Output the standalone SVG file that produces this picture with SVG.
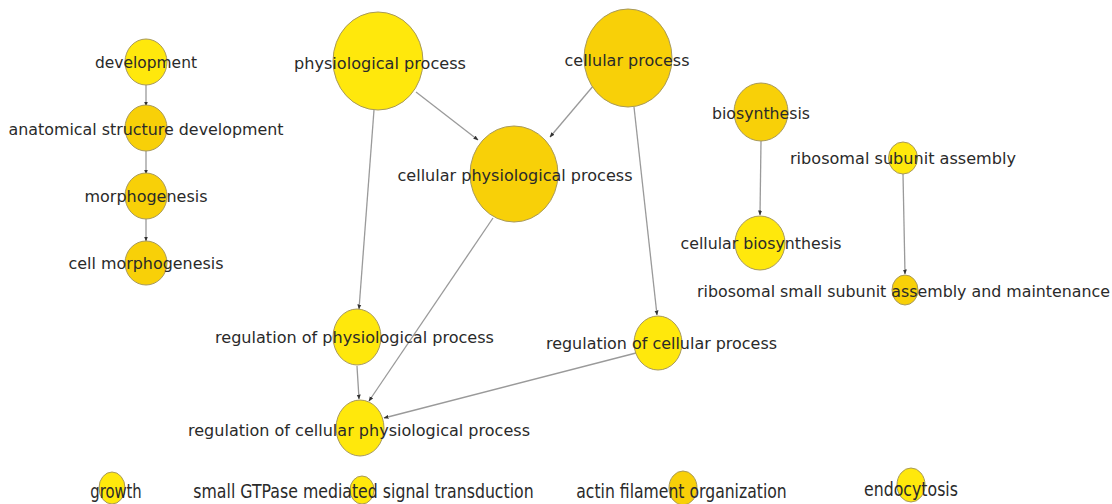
<svg xmlns="http://www.w3.org/2000/svg" width="1112" height="504" viewBox="0 0 1112 504">
  <style>
    .yel { fill: #FFE80C; stroke: #A8995A; stroke-width: 1; }
    .gold { fill: #F8D008; stroke: #A8995A; stroke-width: 1; }
    .lbl { font-family: "DejaVu Sans", "Liberation Sans", sans-serif; font-size: 15.5px; fill: #2a2a2a; text-anchor: middle; }
    .low { font-family: "DejaVu Sans", "Liberation Sans", sans-serif; font-size: 19px; fill: #2a2a2a; text-anchor: middle; }
    .edge { stroke: #9a9a9a; stroke-width: 1.3; fill: none; marker-end: url(#arrow); }
  </style>
  <defs>
    <marker id="arrow" viewBox="0 0 10 10" refX="9" refY="5" markerWidth="5" markerHeight="5" orient="auto" markerUnits="userSpaceOnUse">
      <path d="M0,1 L10,5 L0,9 z" fill="#333"/>
    </marker>
  </defs>
  <rect width="1112" height="504" fill="#fff"/>

  <g id="connectors">
    <line class="edge" x1="146" y1="85" x2="146" y2="106"/>
    <line class="edge" x1="146" y1="151" x2="146" y2="174"/>
    <line class="edge" x1="146" y1="219" x2="146" y2="241"/>
    <line class="edge" x1="416" y1="92" x2="478" y2="140"/>
    <line class="edge" x1="594" y1="85" x2="550" y2="137"/>
    <line class="edge" x1="374" y1="110" x2="359" y2="309"/>
    <line class="edge" x1="634" y1="107" x2="657" y2="315"/>
    <line class="edge" x1="493" y1="218" x2="369" y2="401"/>
    <line class="edge" x1="357" y1="366" x2="359" y2="399"/>
    <line class="edge" x1="636" y1="353" x2="384" y2="418"/>
    <line class="edge" x1="761" y1="141" x2="760" y2="215"/>
    <line class="edge" x1="903" y1="174" x2="905" y2="274"/>
  </g>

  <g id="development">
    <ellipse class="yel" cx="146" cy="62" rx="21" ry="23"/>
    <text class="lbl" x="146" y="67.5" textLength="102" lengthAdjust="spacingAndGlyphs">development</text>
  </g>
  <g id="anatomical-structure-development">
    <ellipse class="gold" cx="146" cy="128" rx="21" ry="23"/>
    <text class="lbl" x="146" y="134.5" textLength="275" lengthAdjust="spacingAndGlyphs">anatomical structure development</text>
  </g>
  <g id="morphogenesis">
    <ellipse class="gold" cx="146" cy="196" rx="21" ry="23"/>
    <text class="lbl" x="146" y="201.5" textLength="123" lengthAdjust="spacingAndGlyphs">morphogenesis</text>
  </g>
  <g id="cell-morphogenesis">
    <ellipse class="gold" cx="146" cy="263" rx="21" ry="22"/>
    <text class="lbl" x="146" y="268.5" textLength="155" lengthAdjust="spacingAndGlyphs">cell morphogenesis</text>
  </g>

  <g id="physiological-process">
    <ellipse class="yel" cx="378" cy="61" rx="45" ry="49"/>
    <text class="lbl" x="380" y="68.5" textLength="172" lengthAdjust="spacingAndGlyphs">physiological process</text>
  </g>
  <g id="cellular-process">
    <ellipse class="gold" cx="628" cy="58" rx="44" ry="49"/>
    <text class="lbl" x="627" y="65.5" textLength="125" lengthAdjust="spacingAndGlyphs">cellular process</text>
  </g>
  <g id="cellular-physiological-process">
    <ellipse class="gold" cx="514" cy="174" rx="44" ry="48"/>
    <text class="lbl" x="515" y="180.5" textLength="235" lengthAdjust="spacingAndGlyphs">cellular physiological process</text>
  </g>

  <g id="biosynthesis">
    <ellipse class="gold" cx="761" cy="112" rx="27" ry="29"/>
    <text class="lbl" x="761" y="118.5" textLength="98" lengthAdjust="spacingAndGlyphs">biosynthesis</text>
  </g>
  <g id="cellular-biosynthesis">
    <ellipse class="yel" cx="760" cy="243" rx="25" ry="27"/>
    <text class="lbl" x="761" y="248.5" textLength="161" lengthAdjust="spacingAndGlyphs">cellular biosynthesis</text>
  </g>
  <g id="ribosomal-subunit-assembly">
    <ellipse class="yel" cx="903" cy="158" rx="14.5" ry="16"/>
    <text class="lbl" x="903" y="163.5" textLength="226" lengthAdjust="spacingAndGlyphs">ribosomal subunit assembly</text>
  </g>
  <g id="ribosomal-small-subunit-assembly">
    <ellipse class="gold" cx="905" cy="290" rx="13" ry="15"/>
    <text class="lbl" x="903.5" y="296.5" textLength="413" lengthAdjust="spacingAndGlyphs">ribosomal small subunit assembly and maintenance</text>
  </g>

  <g id="regulation-of-physiological-process">
    <ellipse class="yel" cx="357" cy="337" rx="24" ry="28"/>
    <text class="lbl" x="354.5" y="342.5" textLength="279" lengthAdjust="spacingAndGlyphs">regulation of physiological process</text>
  </g>
  <g id="regulation-of-cellular-process">
    <ellipse class="yel" cx="658" cy="343" rx="24" ry="27"/>
    <text class="lbl" x="661.5" y="348.5" textLength="231" lengthAdjust="spacingAndGlyphs">regulation of cellular process</text>
  </g>
  <g id="regulation-of-cellular-physiological-process">
    <ellipse class="yel" cx="360" cy="428" rx="24" ry="28"/>
    <text class="lbl" x="359" y="435.5" textLength="342" lengthAdjust="spacingAndGlyphs">regulation of cellular physiological process</text>
  </g>

  <!-- unconnected terms along the bottom edge, set in a narrower, taller face -->
  <g id="growth">
    <ellipse class="yel" cx="112" cy="488" rx="13" ry="16"/>
    <text class="low" transform="translate(116,498) scale(0.78,1)">growth</text>
  </g>
  <g id="small-gtpase-mediated-signal-transduction">
    <ellipse class="yel" cx="362" cy="490" rx="12" ry="14"/>
    <text class="low" transform="translate(363.5,498) scale(0.83,1)">small GTPase mediated signal transduction</text>
  </g>
  <g id="actin-filament-organization">
    <ellipse class="gold" cx="683" cy="488" rx="14" ry="17"/>
    <text class="low" transform="translate(681.5,498) scale(0.824,1)">actin filament organization</text>
  </g>
  <g id="endocytosis">
    <ellipse class="yel" cx="911" cy="485" rx="14" ry="17"/>
    <text class="low" transform="translate(911,496) scale(0.83,1)">endocytosis</text>
  </g>
</svg>
